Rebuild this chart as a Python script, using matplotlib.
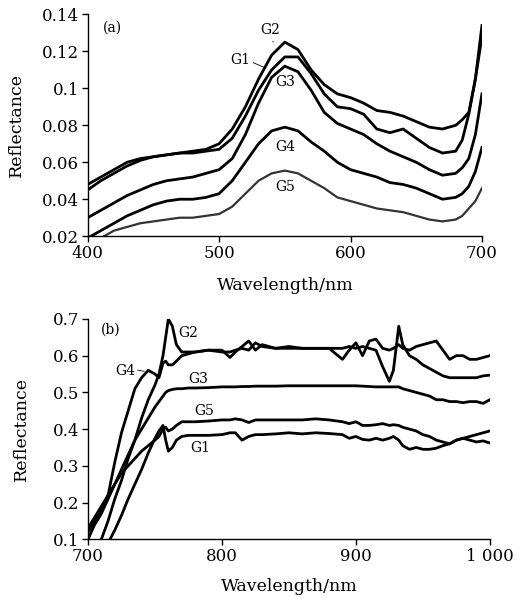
import matplotlib
matplotlib.use("Agg")
import matplotlib.pyplot as plt

plt.rcParams['font.family'] = ['DejaVu Serif']
plt.rcParams['mathtext.fontset'] = 'dejavuserif'

# ---------------- Panel (a): 400-700 nm ----------------
wl_a = [400, 410, 420, 430, 440, 450, 460, 470, 480, 490, 500, 510, 520, 530, 540,
        550, 560, 570, 580, 590, 600, 610, 620, 630, 640, 650, 660, 670, 680, 685,
        690, 695, 700]
a_G2 = [.048, .052, .056, .060, .062, .063, .064, .065, .066, .067, .070, .078, .090, .105, .118,
        .125, .121, .110, .102, .097, .095, .092, .088, .087, .085, .082, .079, .078, .080, .083,
        .087, .105, .134]
a_G1 = [.045, .050, .054, .058, .061, .063, .064, .065, .065, .066, .067, .073, .085, .099, .110,
        .117, .117, .108, .097, .090, .089, .086, .078, .076, .078, .073, .068, .065, .066, .072,
        .086, .105, .128]
a_G3 = [.030, .034, .038, .042, .045, .048, .050, .051, .052, .054, .056, .062, .075, .092, .106,
        .112, .109, .099, .087, .081, .078, .075, .070, .066, .063, .060, .056, .053, .054, .057,
        .062, .075, .097]
a_G4 = [.019, .023, .027, .031, .034, .037, .039, .040, .040, .041, .043, .050, .060, .070, .077,
        .079, .077, .071, .066, .060, .056, .054, .052, .049, .048, .046, .043, .040, .041, .043,
        .047, .055, .068]
a_G5 = [.016, .019, .023, .025, .027, .028, .029, .030, .030, .031, .032, .036, .043, .050, .054,
        .0555, .054, .050, .046, .041, .039, .037, .035, .034, .033, .031, .029, .028, .029, .031,
        .035, .039, .046]
a_xticks = [400, 500, 600, 700]
a_yticks = [0.02, 0.04, 0.06, 0.08, 0.1, 0.12, 0.14]
a_yticklabels = ['0.02', '0.04', '0.06', '0.08', '0.1', '0.12', '0.14']

# ---------------- Panel (b): 700-1000 nm ----------------
wl_b = [700, 705, 710, 715, 720, 725, 730, 735, 740, 745,
        750, 753, 756, 758, 760, 763, 766, 770, 775, 780,
        790, 800, 806, 810, 815, 820, 825, 830, 840, 850,
        860, 870, 880, 890, 895, 900, 905, 910, 915, 920,
        925, 928, 932, 935, 940, 945, 950, 955, 960, 965,
        970, 975, 980, 985, 990, 995, 1000]
b_G4 = [.12, .15, .18, .22, .31, .39, .45, .51, .54, .56,
        .55, .54, .58, .585, .575, .575, .585, .60, .605, .61,
        .615, .615, .595, .61, .625, .64, .615, .63, .62, .62,
        .62, .62, .62, .59, .615, .635, .60, .64, .645, .62,
        .615, .62, .63, .62, .615, .625, .63, .635, .64, .615,
        .59, .60, .60, .59, .59, .595, .60]
b_G2 = [.05, .07, .10, .15, .21, .26, .32, .37, .43, .48,
        .52, .55, .60, .65, .70, .68, .63, .61, .61, .61,
        .615, .61, .61, .615, .62, .615, .635, .625, .62, .625,
        .62, .62, .62, .62, .625, .62, .625, .62, .615, .57,
        .53, .56, .68, .63, .60, .59, .575, .565, .555, .545,
        .54, .54, .54, .54, .54, .545, .547]
b_G3 = [.10, .14, .17, .21, .25, .29, .33, .37, .40, .43,
        .46, .475, .49, .50, .505, .508, .51, .51, .512, .512,
        .513, .515, .515, .515, .516, .516, .517, .517, .517, .518,
        .518, .518, .518, .518, .518, .518, .517, .516, .515, .515,
        .515, .515, .515, .51, .505, .50, .495, .49, .48, .48,
        .475, .475, .472, .475, .475, .47, .48]
b_G5 = [.13, .16, .19, .22, .25, .28, .30, .32, .34, .355,
        .37, .38, .40, .405, .395, .40, .41, .42, .42, .42,
        .422, .425, .425, .428, .425, .418, .425, .425, .425, .425,
        .425, .428, .425, .42, .415, .42, .41, .41, .412, .415,
        .41, .412, .41, .405, .40, .395, .385, .38, .37, .365,
        .36, .37, .375, .38, .385, .39, .395]
b_G1 = [.03, .05, .07, .09, .125, .165, .21, .25, .29, .335,
        .375, .395, .41, .37, .34, .35, .37, .38, .383, .383,
        .383, .385, .39, .39, .37, .38, .385, .385, .387, .39,
        .387, .39, .388, .385, .375, .38, .372, .37, .375, .37,
        .375, .38, .37, .355, .345, .35, .345, .345, .348, .355,
        .36, .37, .375, .37, .365, .368, .362]
b_xticks = [700, 800, 900, 1000]
b_xticklabels = ['700', '800', '900', '1 000']
b_yticks = [0.1, 0.2, 0.3, 0.4, 0.5, 0.6, 0.7]

fig = plt.figure(figsize=(5.25, 6.01), dpi=100)
axa = fig.add_axes([0.167, 0.607, 0.751, 0.369])
axb = fig.add_axes([0.1676, 0.1027, 0.7654, 0.3666])

lw = 2.0
for ys in (a_G2, a_G1, a_G3, a_G4):
    axa.plot(wl_a, ys, color='black', lw=lw, solid_joinstyle='round')
axa.plot(wl_a, a_G5, color='#333333', lw=1.6)

for ys in (b_G4, b_G2, b_G3, b_G5, b_G1):
    axb.plot(wl_b, ys, color='black', lw=lw, solid_joinstyle='round')

for ax in (axa, axb):
    for s in ('top', 'right'):
        ax.spines[s].set_visible(False)
    for s in ('left', 'bottom'):
        ax.spines[s].set_linewidth(1.0)
    ax.tick_params(direction='out', length=4, width=1.0, labelsize=12, pad=2)
    ax.set_ylabel('Reflectance', fontsize=12.5)

axa.set_xlabel('Wavelength/nm', fontsize=12.5, labelpad=11)
axb.set_xlabel('Wavelength/nm', fontsize=12.5, labelpad=10)

axa.set_xlim(400, 700)
axa.set_ylim(0.02, 0.14)
axa.set_xticks(a_xticks)
axa.set_yticks(a_yticks)
axa.set_yticklabels(a_yticklabels)
axa.yaxis.set_label_coords(-0.158, 0.5)

axb.set_xlim(700, 1000)
axb.set_ylim(0.1, 0.7)
axb.set_xticks(b_xticks)
axb.set_xticklabels(b_xticklabels)
axb.set_yticks(b_yticks)
axb.yaxis.set_label_coords(-0.145, 0.5)

fs = 10
axa.text(419, 0.1326, '(a)', fontsize=fs, va='center', ha='center')
axa.text(539, 0.1315, 'G2', fontsize=fs, va='center', ha='center')
axa.annotate('', xy=(541.5, 0.1235), xytext=(540.5, 0.127),
             arrowprops=dict(arrowstyle='-', lw=0.6, color='black'))
axa.text(516, 0.1153, 'G1', fontsize=fs, va='center', ha='center')
axa.annotate('', xy=(537, 0.1105), xytext=(524, 0.1145),
             arrowprops=dict(arrowstyle='-', lw=0.6, color='black'))
axa.text(550, 0.1035, 'G3', fontsize=fs, va='center', ha='center')
axa.text(550, 0.0684, 'G4', fontsize=fs, va='center', ha='center')
axa.text(550, 0.0467, 'G5', fontsize=fs, va='center', ha='center')

axb.text(717, 0.67, '(b)', fontsize=fs, va='center', ha='center')
axb.text(775, 0.661, 'G2', fontsize=fs, va='center', ha='center')
axb.text(728, 0.559, 'G4', fontsize=fs, va='center', ha='center')
axb.annotate('', xy=(744, 0.556), xytext=(735, 0.562),
             arrowprops=dict(arrowstyle='-', lw=0.6, color='black'))
axb.text(782, 0.537, 'G3', fontsize=fs, va='center', ha='center')
axb.text(787, 0.449, 'G5', fontsize=fs, va='center', ha='center')
axb.text(784, 0.348, 'G1', fontsize=fs, va='center', ha='center')

fig.savefig('out.png', dpi=100)
